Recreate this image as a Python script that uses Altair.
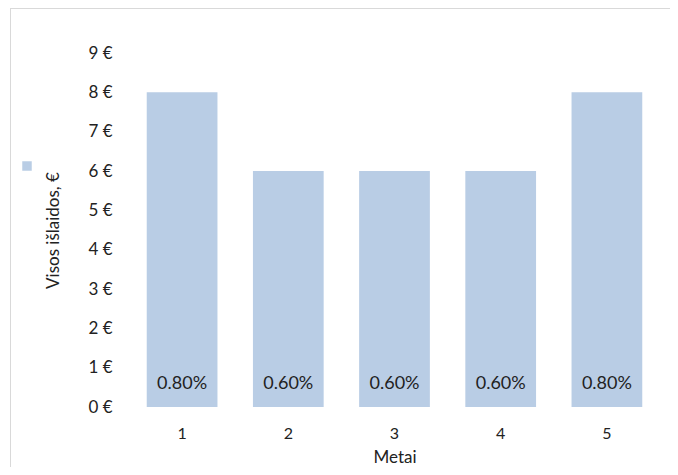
import altair as alt
import pandas as pd

years = ["1", "2", "3", "4", "5"]
costs = [8, 6, 6, 6, 8]
shares = ["0.80%", "0.60%", "0.60%", "0.60%", "0.80%"]
series = ["Visos išlaidos, €"] * 5
y_ticks = [0, 1, 2, 3, 4, 5, 6, 7, 8, 9]

df = pd.DataFrame({"Metai": years, "cost": costs, "share": shares, "series": series})

W, H = 531, 354
FONT = "Lato"

x_axis = alt.Axis(labelAngle=0, domain=False, ticks=False, labelPadding=18,
                  titlePadding=8, labelFontSize=16, titleFontSize=17)
y_axis = alt.Axis(values=y_ticks, labelExpr="datum.value + ' €'",
                  labelOverlap=False, tickCount=10,
                  domain=False, ticks=False, grid=False, labelPadding=17,
                  titlePadding=25, labelFontSize=17, titleFontSize=17)
x_scale = alt.Scale(paddingInner=0.334, paddingOuter=0.167)
y_scale = alt.Scale(domain=[0, 9])

base = alt.Chart(df)

bars = base.mark_bar(color="#B9CDE5").encode(
    x=alt.X("Metai:N", title="Metai", sort=years, scale=x_scale, axis=x_axis),
    y=alt.Y("cost:Q", title="Visos išlaidos, €", scale=y_scale, axis=y_axis),
    fill=alt.Fill("series:N", scale=alt.Scale(range=["#B9CDE5"]),
                  legend=alt.Legend(title=None, labelExpr="''", orient="none",
                                    legendX=-107, legendY=108, symbolType="square",
                                    symbolSize=90, symbolStrokeWidth=0)),
)

labels = base.transform_calculate(zero="0").mark_text(
    fontSize=18, font=FONT, color="#222", dy=-23
).encode(
    x=alt.X("Metai:N", title="Metai", sort=years, scale=x_scale, axis=x_axis),
    y=alt.Y("zero:Q", title="Visos išlaidos, €", scale=y_scale, axis=y_axis),
    text="share:N",
)

border = base.mark_rect(fill=None, stroke="#D9D9D9", strokeWidth=1).encode(
    x=alt.value(-118.5), x2=alt.value(W + 60),
    y=alt.value(-44.5), y2=alt.value(H + 80),
)

chart = alt.layer(bars, labels, border).properties(
    width=W, height=H,
    padding={"left": 121, "top": 45, "right": 10, "bottom": 60},
    autosize=alt.AutoSizeParams(type="none"),
).configure_view(stroke=None).configure_axis(
    labelFont=FONT, titleFont=FONT, labelColor="#222", titleColor="#222",
    titleFontWeight="normal", labelOverlap=False,
).configure_legend(labelFont=FONT)

chart.save("out.html", embed_options={"renderer": "svg", "actions": False})
